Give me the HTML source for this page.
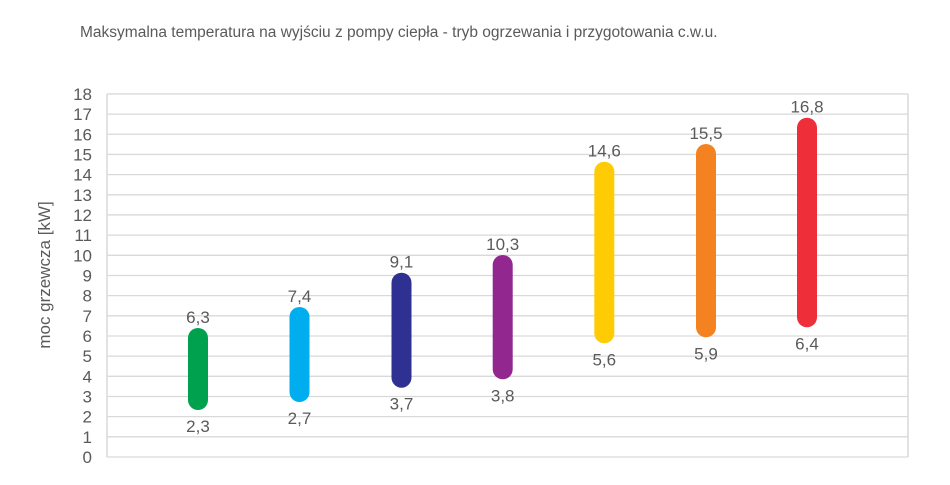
<!DOCTYPE html>
<html><head><meta charset="utf-8"><style>
body{margin:0;background:#fff;}
svg text{font-family:"Liberation Sans",sans-serif;fill:#5a5a5a;}
</style></head><body>
<svg width="950" height="480" xmlns="http://www.w3.org/2000/svg">
<text x="80" y="37" font-size="15.5">Maksymalna temperatura na wyjściu z pompy ciepła - tryb ogrzewania i przygotowania c.w.u.</text>
<g stroke="#d9d9d9" stroke-width="1.5">
<line x1="107" y1="94" x2="107" y2="457"/>
<line x1="908" y1="94" x2="908" y2="457"/>
</g>
<g id="grid" stroke="#d9d9d9" stroke-width="1.3"></g>
<g id="ticks" font-size="17" text-anchor="end"></g>
<text transform="translate(50,275) rotate(-90)" font-size="17" text-anchor="middle">moc grzewcza [kW]</text>
<g id="bars"></g>
</svg>
<script>
var ns="http://www.w3.org/2000/svg";
function y(v){return 457-v*20.17;}
var g=document.getElementById("grid"),t=document.getElementById("ticks");
for(var i=0;i<=18;i++){
 var l=document.createElementNS(ns,"line");l.setAttribute("x1",107);l.setAttribute("x2",908);l.setAttribute("y1",y(i));l.setAttribute("y2",y(i));g.appendChild(l);
 var tx=document.createElementNS(ns,"text");tx.setAttribute("x",92);tx.setAttribute("y",y(i)+6);tx.textContent=i;t.appendChild(tx);
}
var d=[[198,"2,3","6,3",328,410,"#00a14e"],[299.5,"2,7","7,4",307,402,"#00aeef"],[401.5,"3,7","9,1",272.7,387.7,"#2e3192"],[502.7,"3,8","10,3",255,379.3,"#92278f"],[604.3,"5,6","14,6",161.7,343.3,"#ffcb05"],[706,"5,9","15,5",144,337.3,"#f58220"],[807,"6,4","16,8",117.7,327.3,"#ee2e38"]];
var b=document.getElementById("bars");
d.forEach(function(r){
 var top=r[3],bot=r[4];
 var re=document.createElementNS(ns,"rect");re.setAttribute("x",r[0]-10);re.setAttribute("width",20);re.setAttribute("y",top);re.setAttribute("height",bot-top);re.setAttribute("rx",10);re.setAttribute("fill",r[5]);b.appendChild(re);
 var a=document.createElementNS(ns,"text");a.setAttribute("x",r[0]);a.setAttribute("y",top-5);a.setAttribute("font-size","17");a.setAttribute("text-anchor","middle");a.textContent=r[2];b.appendChild(a);
 var c=document.createElementNS(ns,"text");c.setAttribute("x",r[0]);c.setAttribute("y",bot+22);c.setAttribute("font-size","17");c.setAttribute("text-anchor","middle");c.textContent=r[1];b.appendChild(c);
});
</script>
</body></html>
